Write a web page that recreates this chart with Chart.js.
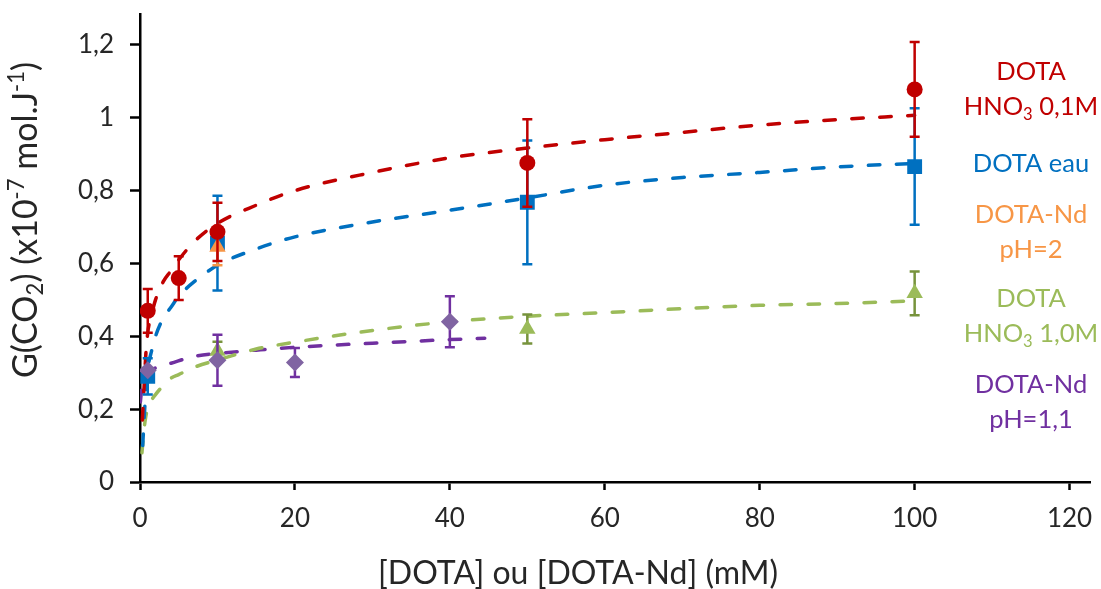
<!DOCTYPE html>
<html><head><meta charset="utf-8">
<script src="https://cdn.jsdelivr.net/npm/chart.js@4"></script>
<style>html,body{margin:0;padding:0;background:#fff}#wrap{width:1101px;height:589px;position:relative}</style>
</head><body><div id="wrap"><canvas id="c"></canvas></div>
<script>
// ---- measured points ----
const redX = [1, 5, 10, 50, 100];
const redY = [0.47, 0.56, 0.687, 0.876, 1.078];
const redErr = [0.06, 0.06, 0.08, 0.12, 0.13];

const blueX = [1, 10, 50, 100];
const blueY = [0.29, 0.656, 0.768, 0.866];
const blueErr = [0.05, 0.13, 0.17, 0.16];

const orangeX = [10];
const orangeY = [0.645];
const orangeErr = [0.05];

const greenX = [10, 50, 100];
const greenY = [0.36, 0.42, 0.518];
const greenErr = [0.025, 0.04, 0.06];

const purpleX = [1, 10, 20, 40];
const purpleY = [0.307, 0.334, 0.328, 0.44];
const purpleErr = [0, 0.07, 0.04, 0.07];

// ---- trend curves ----
const redFitX = [0.3, 0.5, 0.75, 1, 1.5, 2, 3, 4, 5, 7, 10, 15, 20, 30, 40, 50, 60, 70, 80, 90, 100];
const redFitY = [0.17, 0.25, 0.35, 0.41, 0.46, 0.50, 0.55, 0.58, 0.61, 0.66, 0.71, 0.76, 0.80, 0.85, 0.89, 0.917, 0.94, 0.96, 0.98, 0.995, 1.007];

const blueFitX = [0.35, 0.5, 0.75, 1, 1.5, 2, 3, 4, 5, 7, 10, 15, 20, 30, 40, 50, 60, 70, 80, 90, 100];
const blueFitY = [0.10, 0.16, 0.25, 0.31, 0.36, 0.40, 0.45, 0.48, 0.51, 0.55, 0.595, 0.64, 0.673, 0.714, 0.746, 0.78, 0.815, 0.836, 0.85, 0.865, 0.875];

const greenFitX = [0.25, 0.5, 0.75, 1, 1.5, 2, 3, 4, 5, 7, 10, 15, 20, 30, 40, 50, 60, 70, 80, 90, 100];
const greenFitY = [0.08, 0.14, 0.18, 0.20, 0.225, 0.24, 0.265, 0.285, 0.295, 0.315, 0.335, 0.365, 0.384, 0.416, 0.44, 0.455, 0.465, 0.476, 0.485, 0.49, 0.497];

const purpleFitX = [0.05, 0.3, 0.5, 1, 2, 4, 7, 10, 15, 20, 30, 40, 44.5];
const purpleFitY = [0.22, 0.27, 0.285, 0.30, 0.313, 0.326, 0.345, 0.353, 0.362, 0.37, 0.381, 0.391, 0.395];

// ---- axes & text ----
const xTickValues = [0, 20, 40, 60, 80, 100, 120];
const yTickValues = [0, 0.2, 0.4, 0.6, 0.8, 1.0, 1.2];
const xTitle = "[DOTA] ou [DOTA-Nd] (mM)";
const yTitleParts = [["G(CO", 0], ["2", -1], [") (x10", 0], ["-7", 1], [" mol.J", 0], ["-1", 1], [")", 0]];
const seriesLabels = [
  [[["DOTA", 0]], [["HNO", 0], ["3", -1], [" 0,1M", 0]]],
  [[["DOTA eau", 0]]],
  [[["DOTA-Nd", 0]], [["pH=2", 0]]],
  [[["DOTA", 0]], [["HNO", 0], ["3", -1], [" 1,0M", 0]]],
  [[["DOTA-Nd", 0]], [["pH=1,1", 0]]]
];

const RED = '#C00000', BLUE = '#0070C0', ORANGE = '#F79646', GREEN = '#9BBB59', GREEN_D = '#77933C', PURPLE = '#7030A0', PURPLE_M = '#8064A2';
const labelColors = [RED, BLUE, ORANGE, GREEN, PURPLE];
const FONT = 'Lato';

function pts(xs, ys) { return xs.map((x, i) => ({ x: x, y: ys[i] })); }

function curve(xs, ys, color) {
  return { type: 'line', data: pts(xs, ys), borderColor: color, borderWidth: 3.5, borderDash: [11.5, 16.5],
    borderCapStyle: 'round', pointRadius: 0, cubicInterpolationMode: 'monotone', fill: false, order: 10 };
}
function series(xs, ys, errs, color, errColor, style, r, order) {
  return { type: 'scatter', data: pts(xs, ys), errs: errs, errColor: errColor, backgroundColor: color, borderColor: color,
    pointStyle: style, pointRadius: r, pointBorderWidth: 0, showLine: false, order: order };
}

function drawRich(ctx, parts, x, y, size, color, align) {
  let total = 0;
  const ws = parts.map(p => { ctx.font = (p[1] ? size * 0.65 : size) + 'px ' + FONT; const w = ctx.measureText(p[0]).width; total += w; return w; });
  let cx = align === 'center' ? x - total / 2 : x;
  ctx.fillStyle = color; ctx.textAlign = 'left'; ctx.textBaseline = 'alphabetic';
  parts.forEach((p, i) => {
    ctx.font = (p[1] ? size * 0.65 : size) + 'px ' + FONT;
    const dy = p[1] === 1 ? -size * 0.38 : (p[1] === -1 ? size * 0.18 : 0);
    ctx.fillText(p[0], cx, y + dy);
    cx += ws[i];
  });
}

const errPlugin = {
  id: 'errbars',
  beforeDatasetDraw(chart, args) {
    const ds = chart.data.datasets[args.index];
    if (!ds.errs) return;
    const ctx = chart.ctx, xs = chart.scales.x, ys = chart.scales.y;
    ctx.save();
    ctx.strokeStyle = ds.errColor; ctx.lineWidth = 2.5; ctx.lineCap = 'butt';
    ds.data.forEach((p, i) => {
      const e = ds.errs[i]; if (!e) return;
      const px = xs.getPixelForValue(p.x), top = ys.getPixelForValue(p.y + e), bot = ys.getPixelForValue(p.y - e);
      ctx.beginPath();
      ctx.moveTo(px, top); ctx.lineTo(px, bot);
      ctx.moveTo(px - 5, top); ctx.lineTo(px + 5, top);
      ctx.moveTo(px - 5, bot); ctx.lineTo(px + 5, bot);
      ctx.stroke();
    });
    ctx.restore();
  }
};

const textPlugin = {
  id: 'texts',
  afterDraw(chart) {
    const ctx = chart.ctx;
    ctx.save();
    ctx.save();
    ctx.translate(37, 220);
    ctx.rotate(-Math.PI / 2);
    drawRich(ctx, yTitleParts, 0, 0, 34, '#262626', 'center');
    ctx.restore();
    drawRich(ctx, [[xTitle, 0]], 578, 584, 32, '#262626', 'center');
    const baselines = [[80, 115], [172], [223, 258], [307, 342], [393, 428]];
    seriesLabels.forEach((lines, i) => {
      lines.forEach((parts, j) => drawRich(ctx, parts, 1031, baselines[i][j], 25.5, labelColors[i], 'center'));
    });
    ctx.restore();
  }
};

function setTicks(values) {
  return function (scale) { scale.ticks = values.map(v => ({ value: v })); };
}
function noPad(extra) {
  return function (s) { s.paddingTop = 0; s.paddingBottom = 0; s.paddingLeft = 0; s.paddingRight = 0; extra(s); };
}
const fmt = v => String(Math.round(v * 10) / 10).replace('.', ',');

new Chart(document.getElementById('c'), {
  data: {
    datasets: [
      series(redX, redY, redErr, RED, RED, 'circle', 8, 1),
      series(purpleX, purpleY, purpleErr, PURPLE_M, PURPLE, 'rectRot', 9, 2),
      series(greenX, greenY, greenErr, GREEN, GREEN_D, 'triangle', 9.5, 3),
      series(orangeX, orangeY, orangeErr, ORANGE, ORANGE, 'triangle', 9.5, 4),
      series(blueX, blueY, blueErr, BLUE, BLUE, 'rect', 10.5, 5),
      curve(redFitX, redFitY, RED),
      curve(blueFitX, blueFitY, BLUE),
      curve(greenFitX, greenFitY, GREEN),
      curve(purpleFitX, purpleFitY, PURPLE)
    ]
  },
  options: {
    responsive: true, maintainAspectRatio: false, animation: false,
    layout: { padding: { top: 14, right: 0, left: 0, bottom: 0 } },
    plugins: { legend: { display: false }, tooltip: { enabled: false } },
    scales: {
      x: {
        type: 'linear', min: 0, max: 122.7,
        ticks: { color: '#262626', font: { family: FONT, size: 26 }, padding: 13, callback: fmt, maxRotation: 0, autoSkip: false },
        afterBuildTicks: setTicks(xTickValues),
        afterFit: noPad(s => { s.height = 107; }),
        grid: { display: true, drawOnChartArea: false, tickLength: 8, tickColor: '#000', tickWidth: 2.5 },
        border: { display: true, color: '#000', width: 2.5 }
      },
      y: {
        type: 'linear', min: 0, max: 1.285,
        ticks: { color: '#262626', font: { family: FONT, size: 26 }, padding: 16, callback: fmt, autoSkip: false },
        afterBuildTicks: setTicks(yTickValues),
        afterFit: noPad(s => { s.width = 140; }),
        grid: { display: true, drawOnChartArea: false, tickLength: 10, tickColor: '#000', tickWidth: 2.5 },
        border: { display: true, color: '#000', width: 2.5 }
      }
    }
  },
  plugins: [errPlugin, textPlugin]
});
</script>
</body></html>
